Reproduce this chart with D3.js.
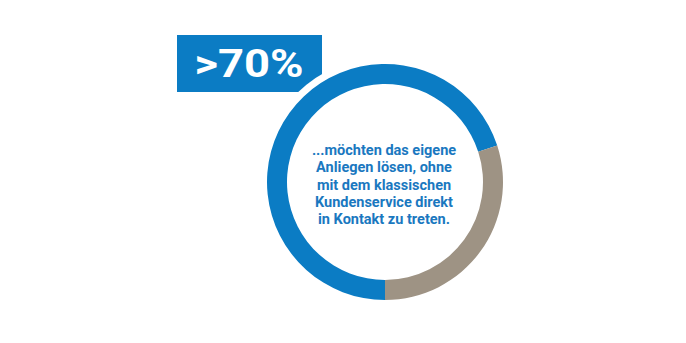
<!DOCTYPE html>
<html>
<head>
<meta charset="utf-8">
<script src="https://cdn.jsdelivr.net/npm/d3@7"></script>
<style>
  html, body { margin: 0; padding: 0; background: #fff; }
  svg { display: block; }
</style>
</head>
<body>
<svg id="chart" width="686" height="343"></svg>
<script>
// Share of respondents
const categories = ["möchten selbst lösen", "übrige"];
const values = [70, 30];
const colors = ["#0b7cc4", "#9e9384"];
const badgeLabel = ">70%";
const captionLines = [
  "...möchten das eigene",
  "Anliegen lösen, ohne",
  "mit dem klassischen",
  "Kundenservice direkt",
  "in Kontakt zu treten."
];

const svg = d3.select("#chart");
const cx = 385, cy = 182;
const outerR = 118, innerR = 98, gapR = 125;

// Badge box behind the ring
const badge = svg.append("g");
badge.append("rect")
  .attr("x", 177).attr("y", 35)
  .attr("width", 145).attr("height", 57)
  .attr("fill", colors[0]);
badge.append("text")
  .attr("x", 249).attr("y", 77)
  .attr("text-anchor", "middle")
  .attr("fill", "#fff")
  .attr("font-family", "Roboto, 'DejaVu Sans', sans-serif")
  .attr("font-weight", 700)
  .attr("font-size", 38)
  .attr("textLength", 109)
  .attr("lengthAdjust", "spacingAndGlyphs")
  .text(badgeLabel);

// White disc separating the ring from the badge corner
svg.append("circle")
  .attr("cx", cx).attr("cy", cy).attr("r", gapR)
  .attr("fill", "#fff");

// Donut ring, starting at the bottom and running clockwise
const pie = d3.pie()
  .sort(null)
  .startAngle(Math.PI)
  .endAngle(3 * Math.PI)
  .value(d => d);
const arc = d3.arc().innerRadius(innerR).outerRadius(outerR);
const color = d3.scaleOrdinal().domain(d3.range(values.length)).range(colors);

svg.append("g")
  .attr("transform", `translate(${cx},${cy})`)
  .selectAll("path")
  .data(pie(values))
  .join("path")
  .attr("d", arc)
  .attr("fill", (d, i) => color(i));

// Caption in the centre
const caption = svg.append("text")
  .attr("text-anchor", "middle")
  .attr("fill", "#1a78c0")
  .attr("font-family", "Roboto, 'DejaVu Sans', sans-serif")
  .attr("font-weight", 700)
  .attr("font-size", 14.5);
caption.selectAll("tspan")
  .data(captionLines)
  .join("tspan")
  .attr("x", 384)
  .attr("y", (d, i) => 155 + i * 17.3)
  .text(d => d);
</script>
</body>
</html>
